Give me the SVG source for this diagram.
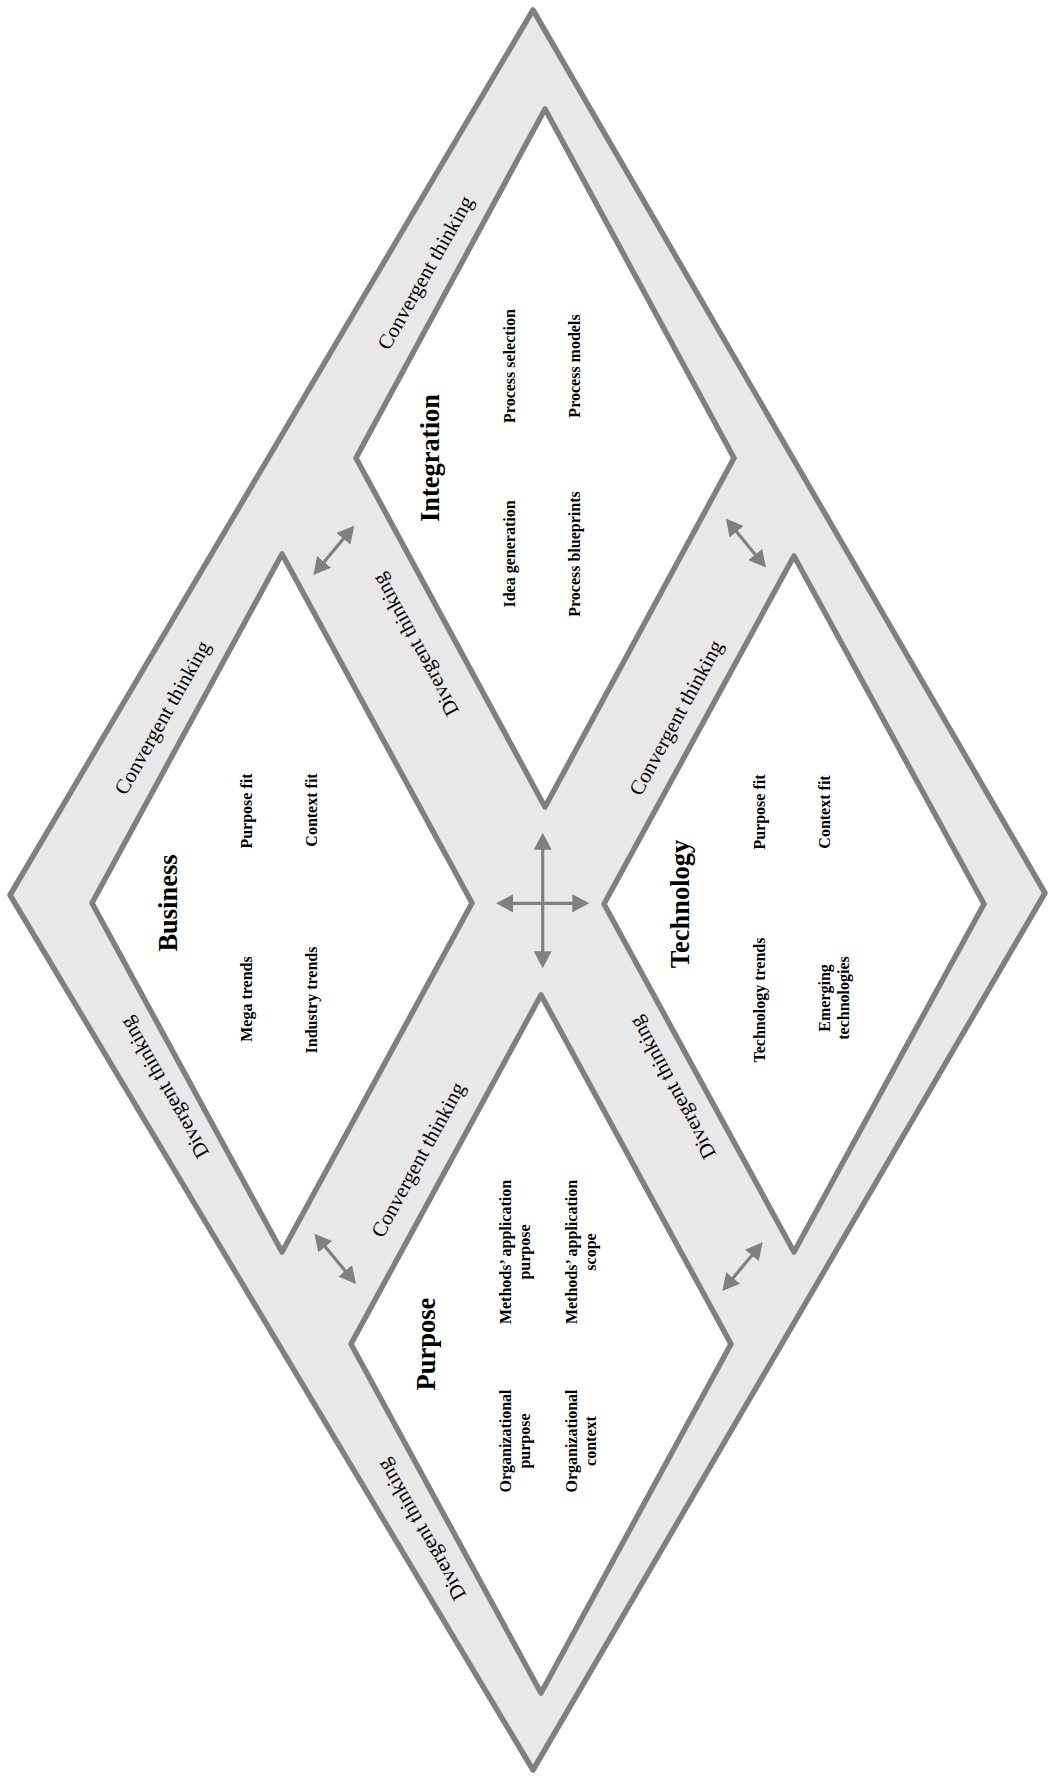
<svg xmlns="http://www.w3.org/2000/svg" width="1049" height="1780" viewBox="0 0 1049 1780">
<defs>
<style>
.band{fill:#e8e8e8;stroke:#808080;stroke-width:5.5;stroke-linejoin:round}
.box{fill:#ffffff;stroke:#808080;stroke-width:5.5;stroke-linejoin:round}
.lbl{font-family:"Liberation Serif","Times New Roman",serif;font-size:21px;fill:#000;text-anchor:middle}
.title{font-family:"Liberation Serif","Times New Roman",serif;font-size:26.5px;font-weight:bold;fill:#000;text-anchor:middle}
.item{font-family:"Liberation Serif","Times New Roman",serif;font-size:16px;font-weight:bold;fill:#000;text-anchor:middle}
.arr{stroke:#808080;stroke-width:3.2;fill:none;marker-start:url(#ah);marker-end:url(#ah)}
</style>
<marker id="ah" markerUnits="userSpaceOnUse" markerWidth="18" markerHeight="18" refX="9" refY="9" orient="auto-start-reverse" viewBox="0 0 18 18"><path d="M0,0 L17,9 L0,18 z" fill="#808080"/></marker>
</defs>
<g id="outer-band">
<polygon class="band" points="533,10 1045,893 533,1770 10,895"/>
</g>
<g id="integration">
<polygon class="box" points="545,109 734,458 545,807 356,458"/>
<text class="title" transform="translate(439,458) rotate(-90)">Integration</text>
<text class="item" transform="translate(515,366) rotate(-90)">Process selection</text>
<text class="item" transform="translate(515,554) rotate(-90)">Idea generation</text>
<text class="item" transform="translate(580,366) rotate(-90)">Process models</text>
<text class="item" transform="translate(580,554) rotate(-90)">Process blueprints</text>
</g>
<g id="business">
<polygon class="box" points="282,554 472,903 282,1252 92,903"/>
<text class="title" transform="translate(176.5,903) rotate(-90)">Business</text>
<text class="item" transform="translate(252,811) rotate(-90)">Purpose fit</text>
<text class="item" transform="translate(252,999) rotate(-90)">Mega trends</text>
<text class="item" transform="translate(317,810) rotate(-90)">Context fit</text>
<text class="item" transform="translate(317,1000) rotate(-90)">Industry trends</text>
</g>
<g id="technology">
<polygon class="box" points="794,556 984,904 794,1252 604,904"/>
<text class="title" transform="translate(689,904) rotate(-90)">Technology</text>
<text class="item" transform="translate(765,812) rotate(-90)">Purpose fit</text>
<text class="item" transform="translate(765,1000) rotate(-90)">Technology trends</text>
<text class="item" transform="translate(830,812) rotate(-90)">Context fit</text>
<text class="item" transform="translate(830,998) rotate(-90)"><tspan x="0" y="0">Emerging</tspan><tspan x="0" y="18.5">technologies</tspan></text>
</g>
<g id="purpose">
<polygon class="box" points="541,995 731,1344 541,1693 351,1344"/>
<text class="title" transform="translate(435,1344) rotate(-90)">Purpose</text>
<text class="item" transform="translate(511,1252) rotate(-90)"><tspan x="0" y="0">Methods’ application</tspan><tspan x="0" y="18.5">purpose</tspan></text>
<text class="item" transform="translate(577,1252) rotate(-90)"><tspan x="0" y="0">Methods’ application</tspan><tspan x="0" y="18.5">scope</tspan></text>
<text class="item" transform="translate(511,1441) rotate(-90)"><tspan x="0" y="0">Organizational</tspan><tspan x="0" y="18.5">purpose</tspan></text>
<text class="item" transform="translate(577,1441) rotate(-90)"><tspan x="0" y="0">Organizational</tspan><tspan x="0" y="18.5">context</tspan></text>
</g>
<g id="labels">
<text class="lbl" transform="translate(425,272.5) rotate(-60.5)" dy="0.35em">Convergent thinking</text>
<text class="lbl" transform="translate(162,717.5) rotate(-60.5)" dy="0.35em">Convergent thinking</text>
<text class="lbl" transform="translate(675.7,717.5) rotate(-61.4)" dy="0.35em">Convergent thinking</text>
<text class="lbl" transform="translate(417.7,1159.5) rotate(-61.4)" dy="0.35em">Convergent thinking</text>
<text class="lbl" transform="translate(164,1088) rotate(-119.8)" dy="0.35em">Divergent thinking</text>
<text class="lbl" transform="translate(415,645) rotate(-118.6)" dy="0.35em">Divergent thinking</text>
<text class="lbl" transform="translate(672,1088) rotate(-118.6)" dy="0.35em">Divergent thinking</text>
<text class="lbl" transform="translate(421,1530) rotate(-119.8)" dy="0.35em">Divergent thinking</text>
</g>
<g id="connectors">
<line class="arr" x1="542.7" y1="840.7" x2="542.7" y2="960.3"/>
<line class="arr" x1="504" y1="903.3" x2="581.3" y2="903.3"/>
<line class="arr" x1="318.4" y1="568.8" x2="349.2" y2="531.9"/>
<line class="arr" x1="730.9" y1="524.8" x2="760.9" y2="561.4"/>
<line class="arr" x1="319.5" y1="1239.8" x2="350.9" y2="1277.8"/>
<line class="arr" x1="727.4" y1="1284.8" x2="757.6" y2="1248.5"/>
</g>
</svg>
